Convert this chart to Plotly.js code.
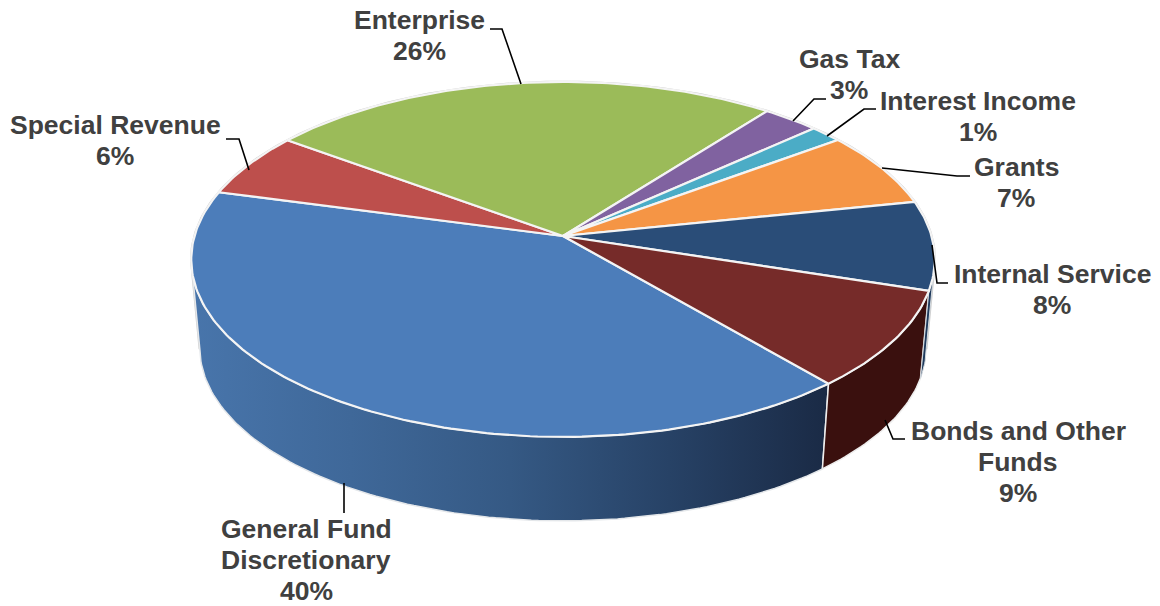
<!DOCTYPE html>
<html>
<head>
<meta charset="utf-8">
<script src="https://cdn.plot.ly/plotly-3.0.1.min.js"></script>
<style>html,body{margin:0;padding:0;background:#fff}#chart{width:1160px;height:606px}</style>
</head>
<body>
<div id="chart"></div>
<script>
// Data, in drawing order clockwise from the General Fund slice
const categories = ['General Fund<br>Discretionary','Special Revenue','Enterprise','Gas Tax','Interest Income','Grants','Internal Service','Bonds and Other<br>Funds'];
const values = [40.4, 5.9, 25.4, 2.8, 1.6, 6.9, 8.1, 8.9];
const percentLabels = ['40%','6%','26%','3%','1%','7%','8%','9%'];

// Style and layout, separate from the data
const sliceColors = ['#4c7dba','#bd4f4c','#9bbb59','#8062a0','#4bacc6','#f59545','#2a4d78','#762b29'];
const labelX = [306,115,419,849,978,1016,1052,1018];
const labelY = [560,140,35,74,116,182,289,462];
const lineGap = 31;
const leaders = [
  [[344,483],[344,513]],
  [[226,139],[239,139],[249,170]],
  [[490,29],[502,29],[521,84]],
  [[826,99],[814,99],[793,121]],
  [[876,109],[864,109],[827,136]],
  [[970,176],[957,176],[882,168]],
  [[948,283],[937,283],[932,245]],
  [[905,439],[893,439],[885,420]]
];
const startDeg = 139.6;

// Perspective projection of the pie's top and bottom discs
const k = -0.132;
const topDisc = {cx:563, cy:236, B:368.5, A:174.4};
const botDisc = {cx:563, cy:325, B:360, A:170};
function project(d, deg){
  const t = deg*Math.PI/180, u = Math.sin(t), v = -Math.cos(t), w = 1+k*v;
  return [d.cx + d.B*u/w, d.cy + d.A*v/w];
}
function arc(d, a0, a1){
  const n = Math.max(2, Math.ceil(Math.abs(a1-a0)));
  const pts = [];
  for(let i=0;i<=n;i++) pts.push(project(d, a0+(a1-a0)*i/n));
  return pts;
}
const total = values.reduce((a,b)=>a+b,0);
const edges = [startDeg];
values.forEach(v=>edges.push(edges[edges.length-1]+v/total*360));

function wall(a0, a1, extra, name){
  const pts = arc(topDisc,a0,a1).concat(arc(botDisc,a1,a0));
  pts.push(pts[0]);
  return Object.assign({type:'scatter',mode:'lines',name:name,x:pts.map(p=>p[0]),y:pts.map(p=>p[1]),fill:'toself',hoverinfo:'skip',showlegend:false}, extra);
}
const traces = [];
// silhouette outline behind everything
const silhouette = arc(topDisc,262,458).concat(arc(botDisc,458,262));
silhouette.push(silhouette[0]);
traces.push({type:'scatter',mode:'lines',x:silhouette.map(p=>p[0]),y:silhouette.map(p=>p[1]),line:{color:'#cfcfcf',width:2.5},hoverinfo:'skip',showlegend:false});
// walls
const left = 262;
traces.push(wall(edges[0], left, {
  line:{color:'#e4e7ea',width:1.5},
  fillcolor:'#33537c',
  fillgradient:{type:'horizontal',colorscale:[[0,'#4875ab'],[0.25,'#3f6899'],[0.5,'#355984'],[0.75,'#274266'],[1,'#1a2a45']]}
},'General Fund wall'));
traces.push(wall(edges[7]-360, edges[8]-360, {line:{color:'#eeeeee',width:1.5},fillcolor:'#3a100e'},'Bonds wall'));
traces.push(wall(98, edges[7]-360, {line:{color:'#d5dbe0',width:1},fillcolor:'#1f3a5c'},'Internal wall'));
// top slices
values.forEach((v,i)=>{
  const pts = [[topDisc.cx,topDisc.cy]].concat(arc(topDisc,edges[i],edges[i+1]));
  pts.push(pts[0]);
  traces.push({type:'scatter',mode:'lines',name:categories[i],x:pts.map(p=>p[0]),y:pts.map(p=>p[1]),fill:'toself',fillcolor:sliceColors[i],line:{color:'#f4f4f4',width:2.2},hoverinfo:'skip',showlegend:false});
});
// leader lines
leaders.forEach(l=>{
  traces.push({type:'scatter',mode:'lines',x:l.map(p=>p[0]),y:l.map(p=>p[1]),line:{color:'#000000',width:1.6},hoverinfo:'skip',showlegend:false});
});
const annotations = [];
categories.forEach((c,i)=>{
  const lines = c.split('<br>').concat(percentLabels[i]);
  lines.forEach((t,j)=>annotations.push({
    x:labelX[i],y:labelY[i]+(j-(lines.length-1)/2)*lineGap,xref:'x',yref:'y',xanchor:'center',yanchor:'middle',showarrow:false,align:'center',
    text:'<b>'+t+'</b>',
    font:{family:'"Liberation Sans", Arial, sans-serif',size:26.5,color:'#404040'}
  }));
});
Plotly.newPlot('chart',traces,{
  width:1160,height:606,margin:{l:0,r:0,t:0,b:0},
  paper_bgcolor:'#ffffff',plot_bgcolor:'#ffffff',showlegend:false,hovermode:false,
  xaxis:{range:[0,1160],visible:false,fixedrange:true},
  yaxis:{range:[606,0],visible:false,fixedrange:true},
  annotations:annotations
},{displayModeBar:false,staticPlot:true});
</script>
</body>
</html>
